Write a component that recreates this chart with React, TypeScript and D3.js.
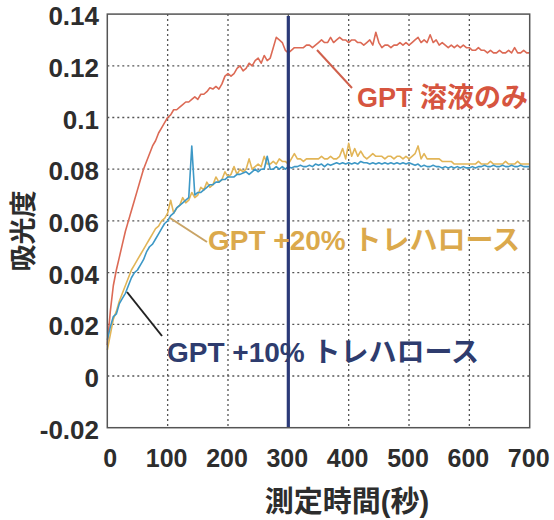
import React from "react";
import * as d3 from "d3";

const xTicks = [0, 100, 200, 300, 400, 500, 600, 700];
const yTicks = [-0.02, 0, 0.02, 0.04, 0.06, 0.08, 0.1, 0.12, 0.14];
const yTickLabels = ["-0.02", "0", "0.02", "0.04", "0.06", "0.08", "0.1", "0.12", "0.14"];

const STEP = 5;
const gptOnly = [
  0.012, 0.025, 0.035, 0.041, 0.046, 0.051, 0.056, 0.06, 0.064, 0.068,
  0.072, 0.076, 0.08, 0.083, 0.086, 0.089, 0.091, 0.094, 0.096, 0.098,
  0.1, 0.101, 0.103, 0.103, 0.104, 0.105, 0.106, 0.106, 0.107, 0.108,
  0.107, 0.109, 0.109, 0.11, 0.1115, 0.111, 0.112, 0.111, 0.113, 0.116,
  0.117, 0.116, 0.117, 0.119, 0.12, 0.118, 0.119, 0.121, 0.12, 0.122,
  0.123, 0.121, 0.124, 0.122, 0.123, 0.127, 0.131, 0.13, 0.129, 0.126,
  0.125, 0.126, 0.127, 0.127, 0.127, 0.127, 0.128, 0.128, 0.127, 0.128,
  0.129, 0.13, 0.129, 0.129, 0.131, 0.129, 0.13, 0.131, 0.13, 0.13,
  0.129, 0.13, 0.13, 0.129, 0.129, 0.128, 0.129, 0.13, 0.128, 0.133,
  0.129, 0.127, 0.128, 0.128, 0.127, 0.128, 0.128, 0.129, 0.128, 0.129,
  0.128, 0.129, 0.13, 0.131, 0.129, 0.13, 0.129, 0.132, 0.129, 0.13,
  0.128, 0.129, 0.128, 0.127, 0.128, 0.127, 0.128, 0.127, 0.128, 0.127,
  0.127, 0.126, 0.126, 0.127, 0.126, 0.126, 0.125, 0.126, 0.125, 0.125,
  0.126, 0.125, 0.125, 0.126, 0.125, 0.127, 0.125, 0.125, 0.126, 0.125,
  0.125,
];
const gpt20 = [
  0.01, 0.016, 0.022, 0.025, 0.029, 0.032, 0.035, 0.038, 0.041, 0.043,
  0.045, 0.047, 0.049, 0.051, 0.053, 0.055, 0.057, 0.058, 0.06, 0.061,
  0.063, 0.068, 0.063, 0.065, 0.066, 0.069, 0.067, 0.068, 0.071, 0.069,
  0.07, 0.073, 0.072, 0.075, 0.073, 0.074, 0.077, 0.075, 0.076, 0.079,
  0.077, 0.078, 0.081, 0.078, 0.08, 0.079, 0.08, 0.084, 0.08, 0.081,
  0.082, 0.081, 0.085, 0.082, 0.082, 0.083, 0.082, 0.084, 0.083, 0.083,
  0.082, 0.084, 0.086, 0.084, 0.084, 0.083, 0.084, 0.084, 0.084, 0.084,
  0.084, 0.085, 0.084, 0.084, 0.085, 0.084, 0.084, 0.085, 0.088, 0.084,
  0.09, 0.085, 0.088, 0.085, 0.087, 0.085, 0.084, 0.085, 0.086, 0.085,
  0.085, 0.085, 0.084, 0.085, 0.085, 0.084, 0.085, 0.085, 0.084, 0.085,
  0.084, 0.085, 0.086, 0.089, 0.084, 0.086, 0.084, 0.084, 0.084, 0.084,
  0.084, 0.083, 0.083, 0.083, 0.083, 0.082, 0.082, 0.082, 0.082, 0.082,
  0.082, 0.082, 0.082, 0.083, 0.082, 0.082, 0.082, 0.083, 0.082, 0.082,
  0.082, 0.082, 0.083, 0.082, 0.082, 0.082, 0.083, 0.082, 0.082, 0.082,
  0.082,
];
const gpt10 = [
  0.014, 0.019, 0.023, 0.024, 0.028, 0.03, 0.032, 0.035, 0.038, 0.04,
  0.041, 0.043, 0.045, 0.048, 0.05, 0.051, 0.053, 0.055, 0.057, 0.059,
  0.06, 0.062, 0.063, 0.065, 0.066, 0.067, 0.068, 0.069, 0.089, 0.07,
  0.071, 0.071, 0.072, 0.073, 0.074, 0.074, 0.075, 0.075, 0.076, 0.076,
  0.077, 0.077, 0.077, 0.078, 0.078, 0.0785, 0.079, 0.078, 0.079, 0.08,
  0.079, 0.08, 0.08, 0.085, 0.08, 0.08, 0.081, 0.08, 0.081, 0.08,
  0.081, 0.0805, 0.081, 0.081, 0.0815, 0.081, 0.081, 0.0815, 0.081, 0.082,
  0.0815, 0.082, 0.081, 0.082, 0.0815, 0.082, 0.0825, 0.082, 0.0825, 0.082,
  0.0825, 0.082, 0.0825, 0.082, 0.083, 0.0825, 0.0825, 0.082, 0.0825, 0.082,
  0.0825, 0.082, 0.0825, 0.082, 0.0825, 0.082, 0.0825, 0.082, 0.0825, 0.082,
  0.0825, 0.082, 0.0815, 0.082, 0.081, 0.0815, 0.081, 0.081, 0.0815, 0.081,
  0.081, 0.0805, 0.081, 0.0805, 0.081, 0.0805, 0.081, 0.0805, 0.081, 0.0805,
  0.0805, 0.081, 0.0805, 0.081, 0.081, 0.0815, 0.081, 0.081, 0.0815, 0.081,
  0.081, 0.0815, 0.081, 0.081, 0.0815, 0.081, 0.081, 0.0815, 0.081, 0.081,
  0.081,
];

const seriesNames = ["GPT 溶液のみ", "GPT +20% トレハロース", "GPT +10% トレハロース"];
const markerTime = 300;

const FONT = "'Liberation Sans', 'Noto Sans CJK JP', Arial, sans-serif";

export default function App() {
  const x = d3.scaleLinear().domain([0, 700]).range([107.3, 529.7]);
  const y = d3.scaleLinear().domain([-0.02, 0.14]).range([427.7, 14.1]);
  const line = d3
    .line<number>()
    .x((_, i) => x(i * STEP))
    .y((d) => y(d));

  const series = [
    { data: gptOnly, color: "#dc6a55" },
    { data: gpt20, color: "#e2b557" },
    { data: gpt10, color: "#3d98c6" },
  ];

  return (
    <svg
      width={554}
      height={520}
      style={{ position: "fixed", left: 0, top: 0, background: "#fff" }}
      fontFamily={FONT}
    >
      <rect x={0} y={0} width={554} height={520} fill="#fff" />
      {xTicks.slice(1, -1).map((t) => (
        <line
          key={"gx" + t}
          x1={x(t)}
          x2={x(t)}
          y1={y(0.14)}
          y2={y(-0.02)}
          stroke="#555"
          strokeWidth={1.3}
          strokeDasharray="2,3"
        />
      ))}
      {yTicks.slice(1, -1).map((t) => (
        <line
          key={"gy" + t}
          x1={x(0)}
          x2={x(700)}
          y1={y(t)}
          y2={y(t)}
          stroke="#555"
          strokeWidth={1.3}
          strokeDasharray="2,3"
        />
      ))}
      {series.map((s, i) => (
        <path
          key={i}
          d={line(s.data) || ""}
          fill="none"
          stroke={s.color}
          strokeWidth={1.6}
          strokeLinejoin="round"
        />
      ))}
      <line
        x1={x(markerTime)}
        x2={x(markerTime)}
        y1={y(0.14) + 2}
        y2={y(-0.02)}
        stroke="#2b3a78"
        strokeWidth={3.2}
      />
      <rect
        x={x(0)}
        y={y(0.14)}
        width={x(700) - x(0)}
        height={y(-0.02) - y(0.14)}
        fill="none"
        stroke="#555"
        strokeWidth={1.5}
      />
      {yTicks.map((t, i) => (
        <text
          key={"yl" + t}
          x={99}
          y={y(t) + 11}
          textAnchor="end"
          fontSize={26}
          fontWeight="bold"
          fill="#2d2d2d"
        >
          {yTickLabels[i]}
        </text>
      ))}
      {xTicks.map((t) => (
        <text
          key={"xl" + t}
          x={x(t) + (t === 0 ? 3 : -1)}
          y={467}
          textAnchor="middle"
          fontSize={25}
          fontWeight="bold"
          fill="#2d2d2d"
        >
          {t}
        </text>
      ))}
      <text
        x={347}
        y={512}
        textAnchor="middle"
        fontSize={29}
        fontWeight="bold"
        fill="#2d2d2d"
      >
        測定時間(秒)
      </text>
      <text
        transform="translate(33,231) rotate(-90)"
        textAnchor="middle"
        fontSize={27}
        fontWeight="bold"
        fill="#2d2d2d"
      >
        吸光度
      </text>
      <line x1={317} y1={50} x2={352} y2={88} stroke="#d0604c" strokeWidth={2} />
      <text x={357} y={107} fontSize={27} fontWeight="bold" fill="#d6553f">
        {seriesNames[0]}
      </text>
      <line x1={170} y1={218} x2={207} y2={242} stroke="#c9a466" strokeWidth={2} />
      <text x={208} y={250} fontSize={28} fontWeight="bold" fill="#dba94c">
        {seriesNames[1]}
      </text>
      <line x1={127} y1={292} x2={162} y2={336} stroke="#222" strokeWidth={2} />
      <text x={167} y={362} fontSize={28} fontWeight="bold" fill="#2e3c6e">
        {seriesNames[2]}
      </text>
    </svg>
  );
}
